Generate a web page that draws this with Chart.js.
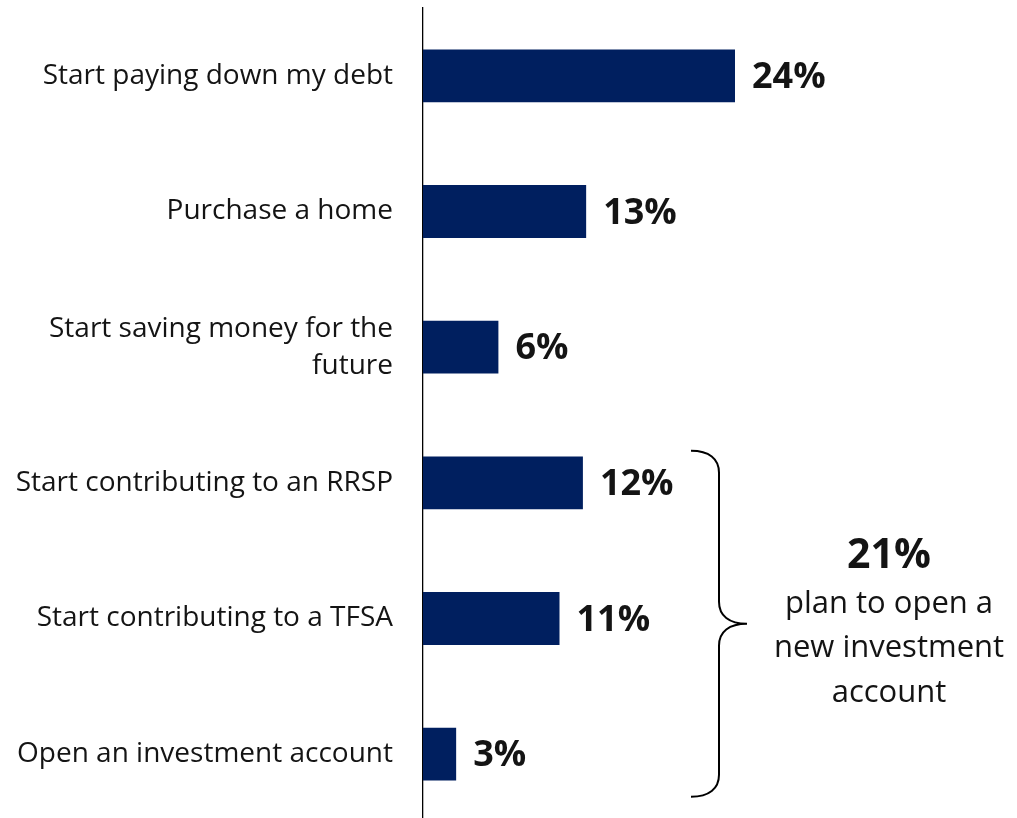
<!DOCTYPE html>
<html>
<head>
<meta charset="utf-8">
<script src="https://cdn.jsdelivr.net/npm/chart.js@4.4.1/dist/chart.umd.min.js"></script>
<style>
  html, body { margin: 0; padding: 0; background: #fff; overflow: hidden; }
  #wrap { position: relative; width: 1017px; height: 822px; }
</style>
</head>
<body>
<div id="wrap"><canvas id="c"></canvas></div>
<script>
// ---- data ----
const categories = [
  'Start paying down my debt',
  'Purchase a home',
  ['Start saving money for the', 'future'],
  'Start contributing to an RRSP',
  'Start contributing to a TFSA',
  'Open an investment account'
];
const percentages = [24.0, 12.55, 5.8, 12.3, 10.5, 2.55];
const valueLabels = ['24%', '13%', '6%', '12%', '11%', '3%'];
const bracketFirst = 3;   // first category covered by the bracket
const bracketLast = 5;    // last category covered by the bracket
const bracketTotal = '21%';
const bracketText = ['plan to open a', 'new investment', 'account'];

const barColor = '#001F5F';
const textColor = '#141414';

const valueLabelPlugin = {
  id: 'valueLabels',
  afterDatasetsDraw(chart) {
    const ctx = chart.ctx;
    const meta = chart.getDatasetMeta(0);
    ctx.save();
    ctx.font = 'bold 36px "Open Sans"';
    ctx.fillStyle = textColor;
    ctx.textAlign = 'left';
    ctx.textBaseline = 'middle';
    meta.data.forEach((bar, i) => {
      ctx.fillText(valueLabels[i], bar.x + 17, bar.y + 2);
    });
    ctx.restore();
  }
};

const bracketPlugin = {
  id: 'bracket',
  afterDraw(chart) {
    const ctx = chart.ctx;
    const y = chart.scales.y;
    const top = y.getPixelForValue(bracketFirst) - 32;
    const bot = y.getPixelForValue(bracketLast) + 42.5;
    const mid = (top + bot) / 2;
    const xL = 691, xV = 719, xT = 747;
    ctx.save();
    ctx.strokeStyle = '#000';
    ctx.lineWidth = 2;
    ctx.beginPath();
    ctx.moveTo(xL, top);
    ctx.bezierCurveTo(xL + 18, top, xV, top + 8, xV, top + 22);
    ctx.lineTo(xV, mid - 22);
    ctx.bezierCurveTo(xV, mid - 8, xV + 10, mid, xT, mid);
    ctx.bezierCurveTo(xV + 10, mid, xV, mid + 8, xV, mid + 22);
    ctx.lineTo(xV, bot - 22);
    ctx.bezierCurveTo(xV, bot - 8, xL + 18, bot, xL, bot);
    ctx.stroke();

    const cx = 889;
    ctx.fillStyle = textColor;
    ctx.textAlign = 'center';
    ctx.textBaseline = 'alphabetic';
    ctx.font = 'bold 41px "Open Sans"';
    ctx.fillText(bracketTotal, cx, mid - 56);
    ctx.font = '31px "Open Sans"';
    bracketText.forEach((t, i) => {
      ctx.fillText(t, cx, mid - 11 + i * 44.5);
    });
    ctx.restore();
  }
};

new Chart(document.getElementById('c'), {
  type: 'bar',
  data: {
    labels: categories,
    datasets: [{
      data: percentages,
      backgroundColor: barColor,
      borderWidth: 0,
      categoryPercentage: 1,
      barPercentage: 0.39
    }]
  },
  options: {
    indexAxis: 'y',
    responsive: true,
    maintainAspectRatio: false,
    animation: false,
    layout: { padding: { top: 8, right: 204, bottom: 0, left: 0 } },
    plugins: { legend: { display: false }, tooltip: { enabled: false } },
    scales: {
      x: { display: false, min: 0, max: 30 },
      y: {
        grid: { display: false, drawTicks: false },
        border: { display: true, color: '#000', width: 1.3 },
        ticks: {
          padding: 30,
          color: textColor,
          font: { family: '"Open Sans"', size: 28, lineHeight: 1.32 }
        },
        afterFit(scale) {
          scale.width = 423;
          scale.paddingTop = 0;
          scale.paddingBottom = 0;
        }
      }
    }
  },
  plugins: [valueLabelPlugin, bracketPlugin]
});
</script>
</body>
</html>
